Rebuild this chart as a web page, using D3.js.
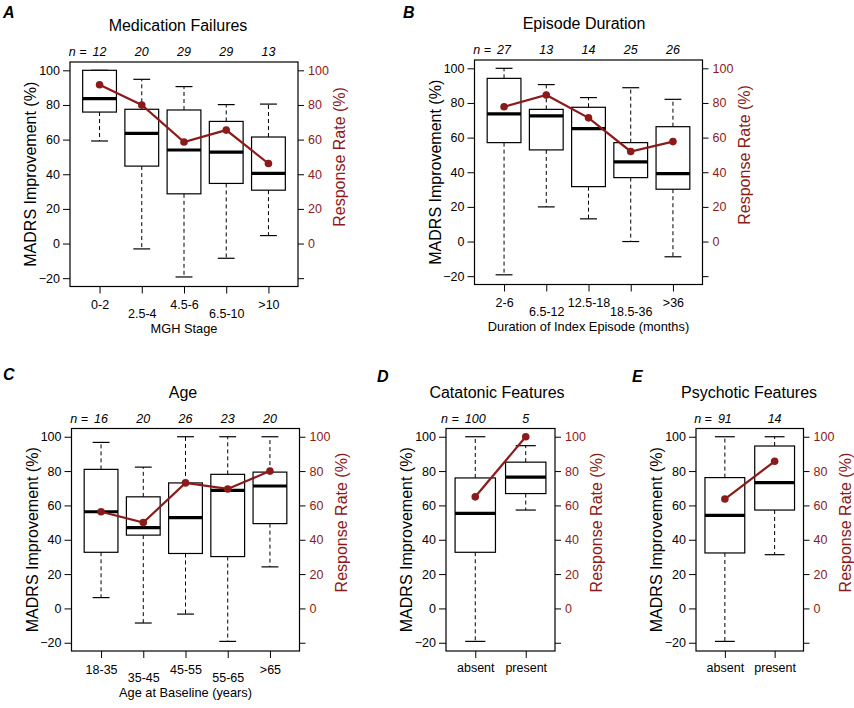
<!DOCTYPE html>
<html>
<head>
<meta charset="utf-8">
<title>MADRS improvement and response rate</title>
<script src="https://cdn.jsdelivr.net/npm/d3@7"></script>
<style>
  body { margin: 0; background: #fff; }
  text { font-family: "Liberation Sans", Arial, sans-serif; }
</style>
</head>
<body>
<svg width="854" height="708" id="mainsvg"></svg>
<script>
// ---- values ----
// A: medication failures (MGH stage)
const stageCats = ['0-2', '2.5-4', '4.5-6', '6.5-10', '>10'];
const stageN    = [12, 20, 29, 29, 13];
const stageLo   = [59.2, -3.1, -19.3, -8.5, 4.6];
const stageQ1   = [75.9, 44.7, 28.7, 34.7, 30.8];
const stageMed  = [83.6, 63.6, 54.0, 52.8, 40.5];
const stageQ3   = [100, 77.5, 77.1, 70.5, 61.5];
const stageHi   = [100, 94.8, 90.6, 80.2, 80.5];
const stageRate = [91.7, 80.0, 58.6, 65.5, 46.2];

// B: episode duration
const durCats = ['2-6', '6.5-12', '12.5-18', '18.5-36', '>36'];
const durN    = [27, 13, 14, 25, 26];
const durLo   = [-19.2, 20.0, 13.1, 0.0, -8.8];
const durQ1   = [57.1, 52.9, 31.7, 36.9, 30.2];
const durMed  = [73.7, 72.5, 65.2, 46.0, 39.2];
const durQ3   = [94.2, 76.3, 77.5, 57.1, 66.3];
const durHi   = [100, 90.6, 83.1, 88.8, 82.1];
const durRate = [77.8, 84.6, 71.4, 52.0, 57.7];

// C: age
const ageCats = ['18-35', '35-45', '45-55', '55-65', '>65'];
const ageN    = [16, 20, 26, 23, 20];
const ageLo   = [6.3, -8.5, -3.3, -19.2, 24.2];
const ageQ1   = [32.7, 42.7, 32.0, 30.2, 49.4];
const ageMed  = [56.3, 47.1, 52.9, 68.8, 71.3];
const ageQ3   = [81.0, 65.0, 73.1, 78.1, 79.4];
const ageHi   = [96.7, 82.3, 100, 100, 100];
const ageRate = [56.3, 50.0, 73.1, 69.6, 80.0];

// D: catatonic features
const catCats = ['absent', 'present'];
const catN    = [100, 5];
const catLo   = [-19.2, 57.3];
const catQ1   = [32.7, 66.9];
const catMed  = [55.4, 76.5];
const catQ3   = [76.0, 85.2];
const catHi   = [100, 94.8];
const catRate = [65.0, 100];

// E: psychotic features
const psyCats = ['absent', 'present'];
const psyN    = [91, 14];
const psyLo   = [-19.2, 31.3];
const psyQ1   = [32.3, 57.3];
const psyMed  = [54.2, 73.3];
const psyQ3   = [76.2, 94.6];
const psyHi   = [100, 100];
const psyRate = [63.7, 85.7];

const yTicks = [-20, 0, 20, 40, 60, 80, 100];

// ---- layout ----
const panels = [
  {letter: 'A', title: 'Medication Failures', xTitle: 'MGH Stage',
   cats: stageCats, n: stageN, lo: stageLo, q1: stageQ1, med: stageMed, q3: stageQ3, hi: stageHi, rate: stageRate,
   left: 70, right: 298, top: 62, bottom: 286.5, letterX: 3, letterY: 18, titleX: 178, stagger: true},
  {letter: 'B', title: 'Episode Duration', xTitle: 'Duration of Index Episode (months)',
   cats: durCats, n: durN, lo: durLo, q1: durQ1, med: durMed, q3: durQ3, hi: durHi, rate: durRate,
   left: 474.5, right: 702.5, top: 60, bottom: 284.5, letterX: 403, letterY: 18, titleX: 584, stagger: true},
  {letter: 'C', title: 'Age', xTitle: 'Age at Baseline (years)',
   cats: ageCats, n: ageN, lo: ageLo, q1: ageQ1, med: ageMed, q3: ageQ3, hi: ageHi, rate: ageRate,
   left: 71.5, right: 299.5, top: 428.5, bottom: 651, letterX: 3, letterY: 380, titleX: 183, stagger: true},
  {letter: 'D', title: 'Catatonic Features', xTitle: '',
   cats: catCats, n: catN, lo: catLo, q1: catQ1, med: catMed, q3: catQ3, hi: catHi, rate: catRate,
   left: 446, right: 555, top: 428.5, bottom: 651, letterX: 377, letterY: 382, titleX: 497, stagger: false},
  {letter: 'E', title: 'Psychotic Features', xTitle: '',
   cats: psyCats, n: psyN, lo: psyLo, q1: psyQ1, med: psyMed, q3: psyQ3, hi: psyHi, rate: psyRate,
   left: 696, right: 803.5, top: 428.5, bottom: 651, letterX: 632, letterY: 382, titleX: 749, stagger: false}
];

const svg = d3.select('#mainsvg');
const red = '#8b1a1a';
const tickFont = 12.5;

const styleAxis = function(ag, color){
  ag.select('.domain').remove();
  ag.selectAll('line').attr('stroke', '#000');
  ag.selectAll('text')
    .attr('font-size', tickFont)
    .attr('font-family', '"Liberation Sans", Arial, sans-serif')
    .attr('fill', color);
};

const renderPanel = function(p){
  const g = svg.append('g');
  const k = p.cats.length;
  const pad = 0.04 * k;
  const x = d3.scaleLinear().domain([0.5 - pad, k + 0.5 + pad]).range([p.left, p.right]);
  const y = d3.scaleLinear().domain([-24.8, 104.8]).range([p.bottom, p.top]);
  const rows = p.cats.map((c, i) => ({
    pos: i + 1, cat: c, n: p.n[i], lo: p.lo[i], q1: p.q1[i],
    med: p.med[i], q3: p.q3[i], hi: p.hi[i], rate: p.rate[i]
  }));

  // boxes
  const bx = g.selectAll('.box').data(rows).enter().append('g').attr('class', 'box');
  bx.append('line')
    .attr('x1', d => x(d.pos)).attr('x2', d => x(d.pos))
    .attr('y1', d => y(d.q3)).attr('y2', d => y(d.hi))
    .attr('stroke', '#000').attr('stroke-dasharray', '4,3');
  bx.append('line')
    .attr('x1', d => x(d.pos)).attr('x2', d => x(d.pos))
    .attr('y1', d => y(d.q1)).attr('y2', d => y(d.lo))
    .attr('stroke', '#000').attr('stroke-dasharray', '4,3');
  ['hi', 'lo'].forEach(key => {
    bx.append('line')
      .attr('x1', d => x(d.pos - 0.2)).attr('x2', d => x(d.pos + 0.2))
      .attr('y1', d => y(d[key])).attr('y2', d => y(d[key]))
      .attr('stroke', '#000').attr('stroke-width', 1.2);
  });
  bx.append('rect')
    .attr('x', d => x(d.pos - 0.4))
    .attr('width', d => x(d.pos + 0.4) - x(d.pos - 0.4))
    .attr('y', d => y(d.q3))
    .attr('height', d => y(d.q1) - y(d.q3))
    .attr('fill', '#fff').attr('stroke', '#000').attr('stroke-width', 1.2);
  bx.append('line')
    .attr('x1', d => x(d.pos - 0.4)).attr('x2', d => x(d.pos + 0.4))
    .attr('y1', d => y(d.med)).attr('y2', d => y(d.med))
    .attr('stroke', '#000').attr('stroke-width', 3.2);

  // frame
  g.append('rect')
    .attr('x', p.left).attr('y', p.top)
    .attr('width', p.right - p.left).attr('height', p.bottom - p.top)
    .attr('fill', 'none').attr('stroke', '#000').attr('stroke-width', 1.2);

  // response rate line and points
  const line = d3.line().x(d => x(d.pos)).y(d => y(d.rate));
  g.append('path').datum(rows)
    .attr('d', line).attr('fill', 'none')
    .attr('stroke', red).attr('stroke-width', 2.2);
  g.selectAll('.pt').data(rows).enter().append('circle')
    .attr('class', 'pt')
    .attr('cx', d => x(d.pos)).attr('cy', d => y(d.rate))
    .attr('r', 3.8).attr('fill', red);

  // axes
  const yl = g.append('g').attr('transform', `translate(${p.left},0)`)
    .call(d3.axisLeft(y).tickValues(yTicks).tickSize(7).tickPadding(3).tickSizeOuter(0));
  styleAxis(yl, '#000');

  const yr = g.append('g').attr('transform', `translate(${p.right},0)`)
    .call(d3.axisRight(y).tickValues(yTicks).tickFormat(d => d < 0 ? '' : d)
      .tickSize(6).tickPadding(4).tickSizeOuter(0));
  styleAxis(yr, red);

  const xa = g.append('g').attr('transform', `translate(0,${p.bottom})`)
    .call(d3.axisBottom(x).tickValues(rows.map(d => d.pos))
      .tickFormat(i => p.cats[i - 1]).tickSize(7).tickSizeOuter(0));
  styleAxis(xa, '#000');
  xa.selectAll('text')
    .attr('dy', 0)
    .attr('y', (d, i) => p.stagger ? (i % 2 === 0 ? 22.5 : 31) : 21);

  // axis titles
  g.append('text')
    .attr('transform', `translate(${p.left - 34},${(p.top + p.bottom) / 2}) rotate(-90)`)
    .attr('text-anchor', 'middle').attr('font-size', 16)
    .text('MADRS Improvement (%)');
  g.append('text')
    .attr('transform', `translate(${p.right + 47},${y(50)}) rotate(-90)`)
    .attr('text-anchor', 'middle').attr('font-size', 16).attr('fill', red)
    .text('Response Rate (%)');
  if (p.xTitle) {
    g.append('text')
      .attr('x', (p.left + p.right) / 2).attr('y', p.bottom + 46)
      .attr('text-anchor', 'middle').attr('font-size', 12.8)
      .text(p.xTitle);
  }

  // title and panel letter
  g.append('text')
    .attr('x', p.titleX).attr('y', p.top - 31)
    .attr('text-anchor', 'middle').attr('font-size', 16)
    .text(p.title);
  g.append('text')
    .attr('x', p.letterX).attr('y', p.letterY)
    .attr('font-size', 16).attr('font-weight', 'bold').attr('font-style', 'italic')
    .text(p.letter);

  // sample sizes
  const nt = g.selectAll('.nlab').data(rows).enter().append('text')
    .attr('class', 'nlab')
    .attr('x', d => x(d.pos)).attr('y', p.top - 6)
    .attr('text-anchor', 'middle').attr('font-size', tickFont).attr('font-style', 'italic')
    .text(d => d.n);
  const w0 = nt.node().getComputedTextLength();
  g.append('text')
    .attr('x', x(1) - w0 / 2 - 6).attr('y', p.top - 6)
    .attr('text-anchor', 'end').attr('font-size', tickFont).attr('font-style', 'italic')
    .text('n =');
};

panels.forEach(renderPanel);
</script>
</body>
</html>
